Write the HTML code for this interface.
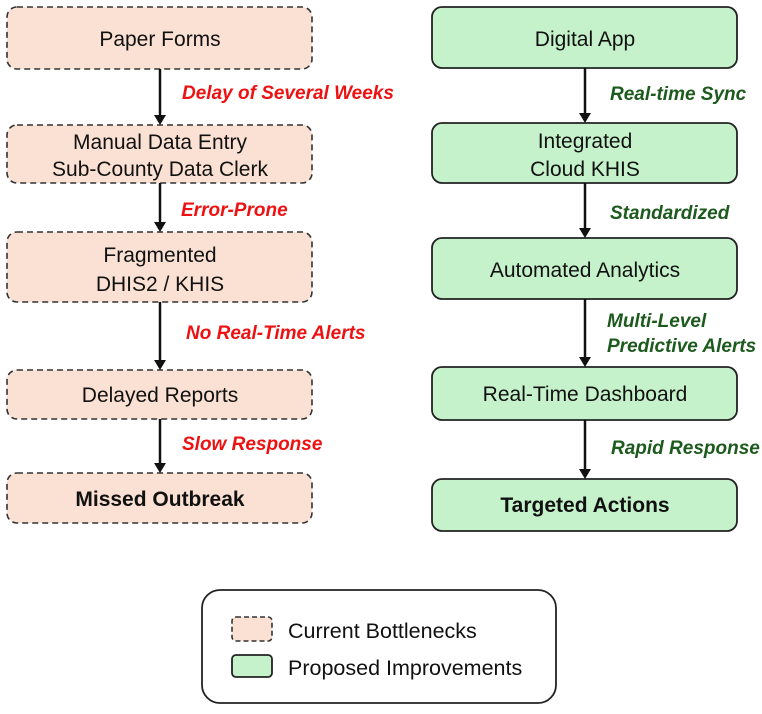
<!DOCTYPE html>
<html><head><meta charset="utf-8"><style>
html,body{margin:0;padding:0;background:#fff;}
svg{display:block;}
text{font-family:"Liberation Sans",sans-serif;}
.bt{font-size:21px;fill:#111;text-anchor:middle;}
.b{font-weight:bold;}
.r{font-size:19px;font-weight:bold;font-style:italic;fill:#ee1111;}
.g{font-size:19px;font-weight:bold;font-style:italic;fill:#1d5a1d;}
.lt{font-size:21.5px;fill:#111;}
</style></head><body>
<svg width="762" height="714" viewBox="0 0 762 714" xmlns="http://www.w3.org/2000/svg">
<g fill="#fae1d3" stroke="#333" stroke-width="1.6" stroke-dasharray="6,4">
<rect x="7" y="7" width="305" height="62" rx="10"/>
<rect x="7" y="125" width="305" height="58" rx="10"/>
<rect x="7" y="232" width="305" height="70" rx="10"/>
<rect x="7" y="370" width="305" height="49" rx="10"/>
<rect x="7" y="473" width="305" height="50" rx="10"/>
</g>
<g fill="#c6f2cb" stroke="#222" stroke-width="1.8">
<rect x="432" y="7" width="305" height="61" rx="10"/>
<rect x="432" y="123" width="305" height="60" rx="10"/>
<rect x="432" y="238" width="305" height="61" rx="10"/>
<rect x="432" y="367" width="305" height="53" rx="10"/>
<rect x="432" y="479" width="305" height="52" rx="10"/>
</g>
<g stroke="#111" stroke-width="2.5">
<line x1="160" y1="69" x2="160" y2="116"/>
<line x1="160" y1="183" x2="160" y2="223"/>
<line x1="160" y1="302" x2="160" y2="361"/>
<line x1="160" y1="419" x2="160" y2="464"/>
<line x1="585" y1="68" x2="585" y2="114"/>
<line x1="585" y1="183" x2="585" y2="229"/>
<line x1="585" y1="299" x2="585" y2="358"/>
<line x1="585" y1="420" x2="585" y2="470"/>
</g>
<g fill="#111">
<polygon points="154,115 166,115 160,125"/>
<polygon points="154,222 166,222 160,232"/>
<polygon points="154,360 166,360 160,370"/>
<polygon points="154,463 166,463 160,473"/>
<polygon points="579,113 591,113 585,123"/>
<polygon points="579,228 591,228 585,238"/>
<polygon points="579,357 591,357 585,367"/>
<polygon points="579,469 591,469 585,479"/>
</g>
<text class="bt" x="160" y="46">Paper Forms</text>
<text class="bt" x="160" y="149">Manual Data Entry</text>
<text class="bt" x="160" y="176">Sub-County Data Clerk</text>
<text class="bt" x="160" y="262">Fragmented</text>
<text class="bt" x="160" y="291">DHIS2 / KHIS</text>
<text class="bt" x="160" y="402">Delayed Reports</text>
<text class="bt b" x="160" y="506">Missed Outbreak</text>
<text class="bt" x="585" y="46">Digital App</text>
<text class="bt" x="585" y="148">Integrated</text>
<text class="bt" x="585" y="176">Cloud KHIS</text>
<text class="bt" x="585" y="277">Automated Analytics</text>
<text class="bt" x="585" y="401">Real-Time Dashboard</text>
<text class="bt b" x="585" y="512">Targeted Actions</text>
<text class="r" x="182" y="99">Delay of Several Weeks</text>
<text class="r" x="181" y="216">Error-Prone</text>
<text class="r" x="186" y="339">No Real-Time Alerts</text>
<text class="r" x="182" y="450">Slow Response</text>
<text class="g" x="610" y="100">Real-time Sync</text>
<text class="g" x="610" y="219">Standardized</text>
<text class="g" x="607" y="327">Multi-Level</text>
<text class="g" x="607" y="352">Predictive Alerts</text>
<text class="g" x="611" y="454">Rapid Response</text>
<rect x="202" y="590" width="354" height="113" rx="18" fill="#fff" stroke="#222" stroke-width="1.8"/>
<rect x="232" y="617" width="40" height="24" rx="4" fill="#fae1d3" stroke="#333" stroke-width="1.6" stroke-dasharray="5,3"/>
<rect x="232" y="655" width="40" height="22" rx="4" fill="#c6f2cb" stroke="#222" stroke-width="1.8"/>
<text class="lt" x="288" y="638">Current Bottlenecks</text>
<text class="lt" x="288" y="675">Proposed Improvements</text>
</svg>
</body></html>
